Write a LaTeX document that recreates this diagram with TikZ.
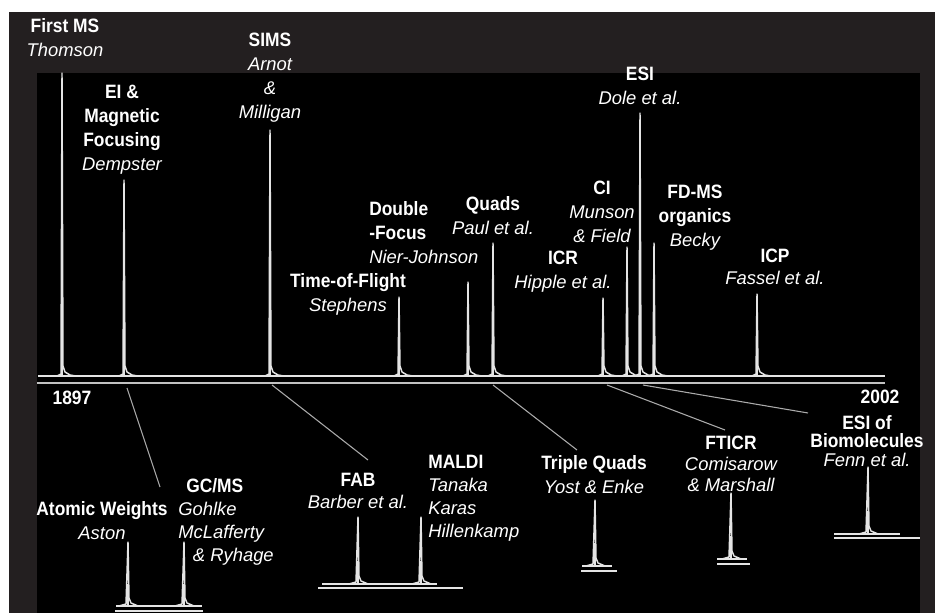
\documentclass[tikz,border=0pt]{standalone}
\usepackage{fontspec}
\setmainfont{Liberation Sans}
\newfontfamily\headfont{Liberation Sans}[FakeStretch=0.9]
\usetikzlibrary{positioning}
\definecolor{framegrey}{RGB}{35,31,32}
\definecolor{trace}{RGB}{228,228,228}
\tikzset{
    event/.style={align=center, inner sep=0pt, text=white, font=\fontsize{13}{18}\selectfont},
    eventleft/.style={event, align=left},
    year/.style={inner sep=0pt, text=white, font=\headfont\fontsize{14.5}{18}\selectfont\bfseries},
    spec/.style={draw=trace, line width=1.1pt, line join=round},
    axisline/.style={draw=trace!85!black, line width=1.6pt},
    link/.style={draw=trace!75!black, line width=0.8pt}
}
\newcommand{\what}[1]{{\headfont\bfseries\fontsize{14.5}{18}\selectfont #1}}
\newcommand{\who}[1]{{\fontsize{13.8}{18}\selectfont\itshape #1}}

\begin{document}
\begin{tikzpicture}[x=0.75pt, y=-0.75pt]
\useasboundingbox (0,0) rectangle (935,613);
\fill[white] (0,0) rectangle (935,613);
\fill[framegrey] (9,12) rectangle (935,613);
\fill[black] (37,73) rectangle (920,613);

% Spectrum
\draw[spec] (38,376) -- (885,376);
\foreach \px/\py in {62/73, 124/180, 270/130, 399/297, 468/282, 493/243, 603/298, 627/247, 640/113, 654/243, 757/294} {
    \draw[spec] (\px-5,376) -- (\px-1,374) -- (\px,\py) -- (\px+1,366) -- (\px+3,372) -- (\px+8,375) -- (\px+14,376);
    \draw[spec, line width=2pt] (\px,376) -- (\px,{376-0.3*(376-\py)});
}
\draw[axisline] (37,383) -- (885,383);

% Small spectra
\foreach \px/\py/\pb in {128/542/606, 184/542/606, 358/517/584, 421/517/584, 595/500/566, 731/493/559, 868/467/534} {
    \draw[spec] (\px-9,\pb) -- (\px-2,\pb-2) -- (\px,\py) -- (\px+1,\pb-8) -- (\px+3,\pb-3) -- (\px+10,\pb);
    \draw[spec, line width=2pt] (\px,\pb) -- (\px,{\pb-0.35*(\pb-\py)});
}
\foreach \xa/\xb/\yy in {116/202/606, 115/203/611, 322/437/584, 318/463/588, 582/612/566, 581/617/571, 717/747/559, 717/750/564, 834/900/534, 834/920/538}
    \draw[spec] (\xa,\yy) -- (\xb,\yy);

% Nodes
\node (firstms) [event, anchor=north] at (65,18) {\what{First MS}\\\who{Thomson}};
\node (ei) [event, anchor=north] at (122,85) {\what{EI \&}\\\what{Magnetic}\\\what{Focusing}\\\who{Dempster}};
\node (sims) [event, anchor=north] at (270,33) {\what{SIMS}\\\who{Arnot}\\\who{\&}\\\who{Milligan}};
\node (tof) [event, anchor=north] at (348,273) {\what{Time-of-Flight}\\\who{Stephens}};
\node (dfocus) [eventleft, anchor=north west] at (369,201) {\what{Double}\\\what{-Focus}\\\who{Nier-Johnson}};
\node (quads) [event, anchor=north] at (493,196) {\what{Quads}\\\who{Paul et al.}};
\node (icr) [event, anchor=north] at (563,251) {\what{ICR}\\\who{Hipple et al.}};
\node (ci) [event, anchor=north] at (602,181) {\what{CI}\\\who{Munson}\\\who{\& Field}};
\node (esi) [event, anchor=north] at (640,67) {\what{ESI}\\\who{Dole et al.}};
\node (fdms) [event, anchor=north] at (695,185) {\what{FD-MS}\\\what{organics}\\\who{Becky}};
\node (icp) [event, anchor=north, font=\fontsize{13}{16.5}\selectfont] at (775,249) {\what{ICP}\\\who{Fassel et al.}};
\node (y1897) [year] at (72,398) {1897};
\node (y2002) [year] at (880,397) {2002};

\node (atomic) [event, anchor=north] at (102,501) {\what{Atomic Weights}\\\who{Aston}};
\node (gcms) [eventleft, anchor=north west, font=\fontsize{13}{17.25}\selectfont] at (178,478) {\hspace*{6pt}\what{GC/MS}\\\who{Gohlke}\\\who{McLafferty}\\\hspace*{11pt}\who{\& Ryhage}};
\node (fab) [event, anchor=north, font=\fontsize{13}{16.5}\selectfont] at (358,473) {\what{FAB}\\\who{Barber et al.}};
\node (maldi) [eventleft, anchor=north west, font=\fontsize{13}{17.25}\selectfont] at (428,455) {\what{MALDI}\\\who{Tanaka}\\\who{Karas}\\\who{Hillenkamp}};
\node (tquads) [event, anchor=north] at (594,455) {\what{Triple Quads}\\\who{Yost \& Enke}};
\node (fticr) [event, anchor=north, font=\fontsize{13}{15.75}\selectfont] at (731,436) {\what{FTICR}\\\who{Comisarow}\\\who{\& Marshall}};
\node (esibio) [event, anchor=north, font=\fontsize{13}{14}\selectfont] at (867,415) {\what{ESI of}\\\what{Biomolecules}\\\who{Fenn et al.}};

% Connectors
\coordinate (axGC) at (127,388);
\coordinate (enGC) at (160,487);
\coordinate (axFAB) at (272,385);
\coordinate (enFAB) at (368,460);
\coordinate (axTQ) at (493,385);
\coordinate (enTQ) at (577,450);
\coordinate (axFT) at (607,385);
\coordinate (enFT) at (725,430);
\coordinate (axESI) at (643,385);
\coordinate (enESI) at (808,413);
\draw [link] (axGC) -- (enGC);
\draw [link] (axFAB) -- (enFAB);
\draw [link] (axTQ) -- (enTQ);
\draw [link] (axFT) -- (enFT);
\draw [link] (axESI) -- (enESI);

\end{tikzpicture}
\end{document}
